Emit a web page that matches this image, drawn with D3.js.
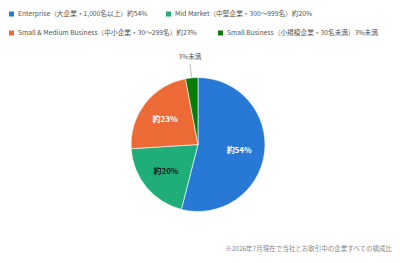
<!DOCTYPE html>
<html><head><meta charset="utf-8">
<script src="https://cdn.jsdelivr.net/npm/d3@7"></script>
<style>body{margin:0;background:#fff}svg{display:block}</style>
</head><body>
<script>
const categories = ["Enterprise（大企業・1,000名以上）約54%","Mid Market（中堅企業・300〜999名）約20%","Small & Medium Business（中小企業・30〜299名）約23%","Small Business（小規模企業・30名未満）3%未満"];
const values = [54, 20, 23, 3];
const sliceLabels = ["約54%","約20%","約23%","3%未満"];
const colors = ["#2878d6","#1fae79","#ec6a35","#0a7c0a"];
const labelColors = ["#ffffff","#1a1a1a","#ffffff","#555555"];
const footnote = "※2026年7月現在で当社とお取引中の企業すべての構成比";

const W=400,H=263;
const svg=d3.select("body").append("svg").attr("width",W).attr("height",H);
const font="'Noto Sans CJK JP','Noto Sans',sans-serif";

// legend
const legendPos=[[9,14],[166,14],[9,33],[218,33]];
categories.forEach((c,i)=>{
  const g=svg.append("g").attr("transform",`translate(${legendPos[i][0]},${legendPos[i][1]})`);
  g.append("rect").attr("x",0).attr("y",-2.5).attr("width",5).attr("height",5).attr("fill",colors[i]);
  g.append("text").attr("x",9).attr("y",0).attr("dy","0.35em").attr("font-family",font)
   .attr("font-size",6.7).attr("fill","#555").text(c);
});

const cx=198,cy=144.5,r=67;
const pie=d3.pie().sort(null).value(d=>d)(values);
const arc=d3.arc().innerRadius(0).outerRadius(r);
const g=svg.append("g").attr("transform",`translate(${cx},${cy})`);
g.selectAll("path").data(pie).join("path").attr("d",arc)
 .attr("fill",(d,i)=>colors[i]).attr("stroke","#fff").attr("stroke-width",0.6);

const inner=d3.arc().innerRadius(r*0.62).outerRadius(r*0.62);
pie.forEach((d,i)=>{
  if(i<3){
    const [x,y]=inner.centroid(d);
    g.append("text").attr("x",x).attr("y",y).attr("dy","0.35em").attr("text-anchor","middle")
     .attr("font-family",font).attr("font-size",8).attr("font-weight","bold")
     .attr("fill",labelColors[i]).text(sliceLabels[i]);
  } else {
    const a=(d.startAngle+d.endAngle)/2;
    const p1=[Math.sin(a)*(r+1),-Math.cos(a)*(r+1)];
    const p2=[Math.sin(a)*(r+14),-Math.cos(a)*(r+14)];
    g.append("line").attr("x1",p1[0]).attr("y1",p1[1]).attr("x2",p2[0]-0.5).attr("y2",p2[1])
     .attr("stroke","#999").attr("stroke-width",0.7);
    g.append("text").attr("x",p2[0]-0.5).attr("y",p2[1]-5).attr("text-anchor","middle")
     .attr("font-family",font).attr("font-size",6.5).attr("fill",labelColors[i]).text(sliceLabels[i]);
  }
});

svg.append("text").attr("x",392).attr("y",249).attr("dy","0.35em").attr("text-anchor","end")
 .attr("font-family",font).attr("font-size",6.5).attr("fill","#888").text(footnote);
</script>
</body></html>
